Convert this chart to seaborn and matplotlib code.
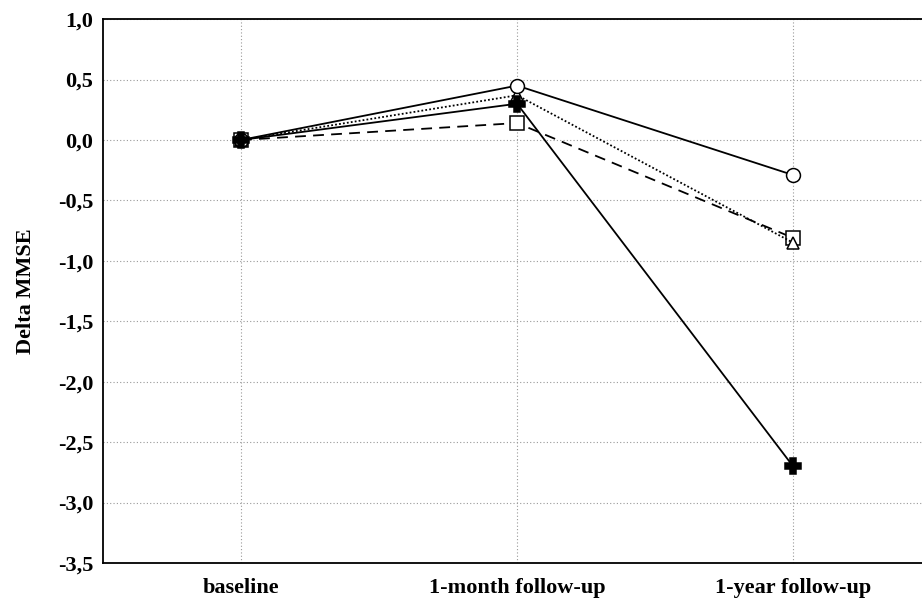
import numpy as np
import pandas as pd
import seaborn as sns
import matplotlib.pyplot as plt
from matplotlib.ticker import MultipleLocator, FuncFormatter

sns.set_style("white")
plt.rcParams["font.family"] = ["Liberation Serif", "DejaVu Serif"]
plt.rcParams["font.weight"] = "bold"
plt.rcParams["text.color"] = "black"
plt.rcParams["axes.labelcolor"] = "black"
plt.rcParams["xtick.color"] = "black"
plt.rcParams["ytick.color"] = "black"

timepoints = ["baseline", "1-month follow-up", "1-year follow-up"]
circle_vals = [0.0, 0.45, -0.29]
triangle_vals = [0.0, 0.37, -0.85]
plus_vals = [0.0, 0.30, -2.70]
square_vals = [0.0, 0.14, -0.81]

groups = ["circle", "triangle", "plus", "square"]
series = [circle_vals, triangle_vals, plus_vals, square_vals]

rows = []
for g, vals in zip(groups, series):
    for i, v in enumerate(vals):
        rows.append({"group": g, "x": i, "delta": v})
df = pd.DataFrame(rows)

styles = {
    "circle": dict(linestyle="-", marker="o", mfc="white", ms=10, zorder=4),
    "triangle": dict(linestyle=(0, (1, 1.2)), marker="^", mfc="white", ms=9, zorder=3),
    "plus": dict(linestyle="-", marker="P", mfc="black", ms=11, zorder=5),
    "square": dict(linestyle=(0, (6, 4)), marker="s", mfc="white", ms=10, zorder=2),
}

fig = plt.figure(figsize=(9.22, 6.01), dpi=100)
ax = fig.add_axes([0.1117, 0.0632, 0.8883, 0.905])

for g in ["square", "triangle", "circle", "plus"]:
    st = styles[g]
    sns.lineplot(data=df[df["group"] == g], x="x", y="delta", color="black",
                 linewidth=1.3, linestyle=st["linestyle"], marker=st["marker"],
                 markersize=st["ms"], markerfacecolor=st["mfc"],
                 markeredgecolor="black", markeredgewidth=1.1,
                 zorder=st["zorder"], ax=ax, legend=False)

ax.set_xlim(-0.5, 2.467)
ax.set_ylim(-3.5, 1.0)
ax.set_xticks(range(len(timepoints)))
ax.set_xticklabels(timepoints, fontsize=16, fontweight="bold")
ax.yaxis.set_major_locator(MultipleLocator(0.5))
ax.yaxis.set_minor_locator(MultipleLocator(0.1))
ax.yaxis.set_major_formatter(FuncFormatter(lambda v, p: f"{v:.1f}".replace(".", ",")))
for lab in ax.get_yticklabels():
    lab.set_fontsize(16)
    lab.set_fontweight("bold")
ax.tick_params(axis="y", which="major", direction="in", length=4, width=1, pad=7)
ax.tick_params(axis="y", which="minor", direction="in", length=3, width=0.8)
ax.tick_params(axis="x", direction="in", length=4, width=1, pad=11)

ax.grid(True, which="major", color="#999999", linestyle=(0, (1, 2)), linewidth=0.8)
ax.set_axisbelow(True)

for s in ["left", "bottom", "top"]:
    ax.spines[s].set_color("black")
    ax.spines[s].set_linewidth(1.3)
ax.spines["right"].set_visible(False)

ax.set_xlabel("")
ax.set_ylabel("Delta MMSE", fontsize=16, fontweight="bold", labelpad=16)

fig.savefig("out.png", dpi=100)
